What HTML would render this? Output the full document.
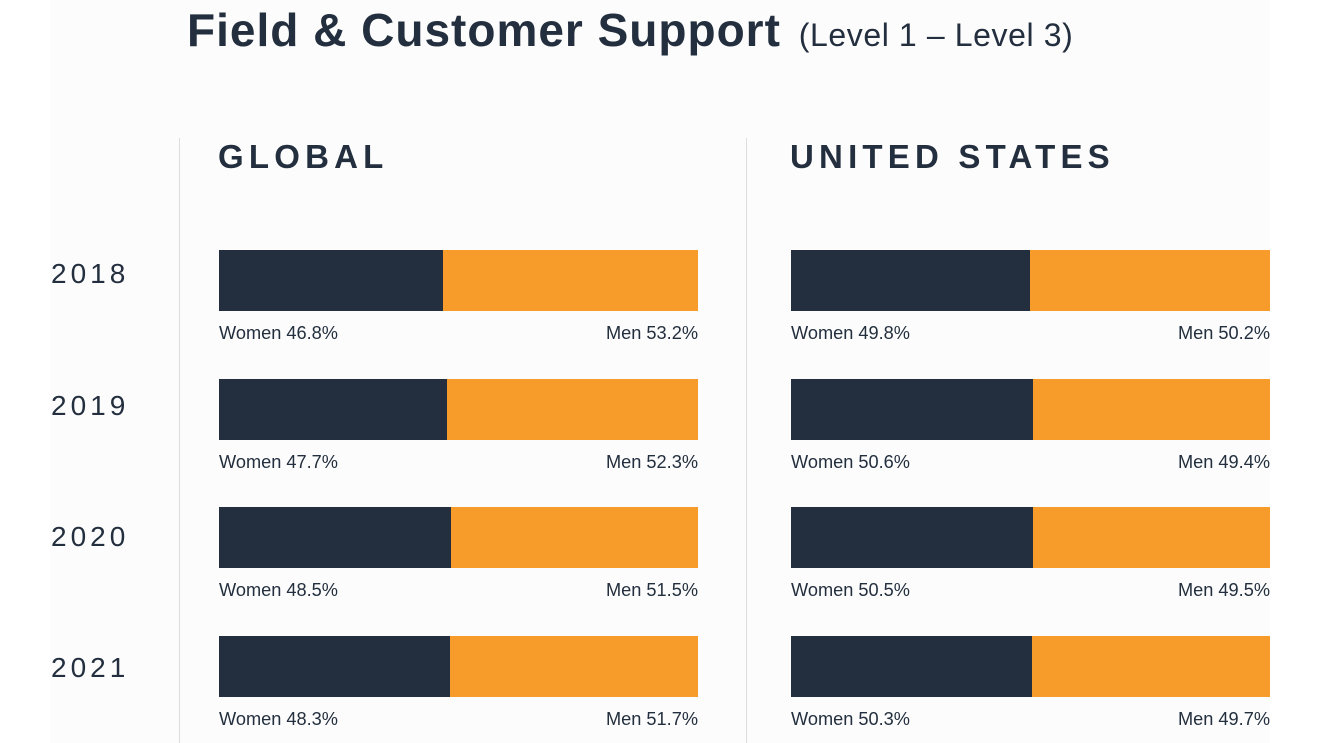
<!DOCTYPE html>
<html><head><meta charset="utf-8"><style>
body{margin:0;width:1320px;height:743px;background:#fff;position:relative;overflow:hidden;font-family:"Liberation Sans",sans-serif;color:#232f3e}
.bg{position:absolute;left:50px;top:0;width:1220px;height:743px;background:#fcfcfc}
.t{position:absolute;white-space:nowrap}
.vl{position:absolute;top:138px;width:1px;height:605px;background:#ddd}
.bar{position:absolute;height:61px;background:#f79c2a;width:479px}
.bar div{height:100%;background:#232f3e}
.lab{position:absolute;font-size:18.2px;color:#232f3e}
.yr{position:absolute;left:51px;font-size:28px;letter-spacing:4px}
.hd{position:absolute;top:138px;font-size:33px;font-weight:bold;letter-spacing:5.2px}
</style></head><body>
<div class="bg"></div>
<div class="t" style="left:187px;top:3px;font-size:46px;font-weight:bold;letter-spacing:1px">Field &amp; Customer Support <span style="font-size:32px;font-weight:normal;letter-spacing:0.6px;margin-left:4px">(Level 1 – Level 3)</span></div>
<div class="vl" style="left:179px"></div>
<div class="vl" style="left:746px"></div>
<div class="hd" style="left:218px">GLOBAL</div>
<div class="hd" style="left:790px">UNITED STATES</div>
<div id="c"></div>
<script>
var yrs=["2018","2019","2020","2021"],yt=[258,390,521,652],g=[46.8,47.7,48.5,48.3],u=[49.8,50.6,50.5,50.3],h="";
for(var i=0;i<4;i++){var y=250+i*128.7;
h+='<div class="yr" style="top:'+yt[i]+'px">'+yrs[i]+'</div>';
[[219,g[i]],[791,u[i]]].forEach(function(p){
h+='<div class="bar" style="left:'+p[0]+'px;top:'+y+'px"><div style="width:'+(p[1]*4.79)+'px"></div></div>';
h+='<div class="lab" style="left:'+p[0]+'px;top:'+(y+73)+'px">Women '+p[1].toFixed(1)+'%</div>';
h+='<div class="lab" style="left:'+p[0]+'px;width:479px;text-align:right;top:'+(y+73)+'px">Men '+(100-p[1]).toFixed(1)+'%</div>';});}
document.getElementById("c").innerHTML=h;
</script>
</body></html>
